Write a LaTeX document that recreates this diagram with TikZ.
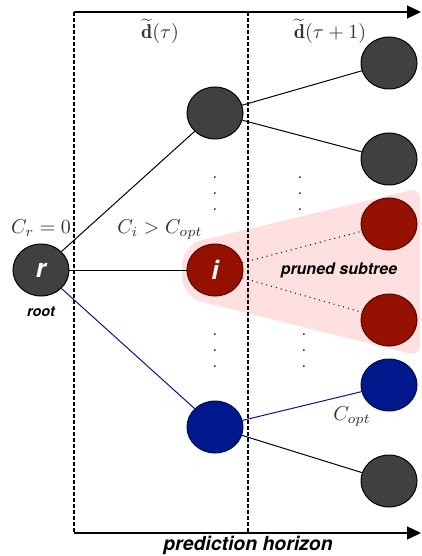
\documentclass[tikz,border=0pt]{standalone}
\usepackage{amsmath}
\usepackage{fontspec}
\setsansfont{TeX Gyre Heros}
\usetikzlibrary{arrows.meta,positioning,shapes.geometric}

\definecolor{nodegray}{RGB}{64,64,64}
\definecolor{nodered}{RGB}{150,16,0}
\definecolor{nodeblue}{RGB}{0,24,140}
\definecolor{prunepink}{RGB}{255,224,224}

\begin{document}
\begin{tikzpicture}[
  font=\sffamily,
  >={Triangle[length=7pt,width=6.5pt]},
  gnode/.style={ellipse, draw=black, line width=0.5pt, fill=nodegray, minimum width=28pt, minimum height=26pt, inner sep=0pt, text=white, font=\sffamily\bfseries\itshape\fontsize{13}{13}\selectfont},
  rnode/.style={gnode, draw=nodered!55!black, fill=nodered},
  bnode/.style={gnode, draw=nodeblue!55!black, fill=nodeblue},
  link/.style={line width=0.5pt},
  horizon/.style={dash pattern=on 2pt off 1pt, line width=0.6pt},
  axis/.style={->, line width=0.7pt},
  tag/.style={font=\sffamily\bfseries\itshape\fontsize{8}{8}\selectfont},
  cost/.style={text=black!80},
  dotcol/.style={align=center, inner sep=0pt, font=\rmfamily\fontsize{8}{8}\selectfont}
]
\useasboundingbox (-20.5pt,-143pt) rectangle (190.5pt,135pt);

% pruned region
\fill[prunepink] [rounded corners=10pt] (70.5pt,-13.5pt) -- (70.5pt,12.5pt)
  [rounded corners=5pt] -- (189.5pt,41pt) -- (189.5pt,-43pt) [rounded corners=10pt] -- cycle;

% time axes
\coordinate (tl) at (16.5pt,129pt);
\coordinate (tm) at (103.5pt,129pt);
\coordinate (tr) at (190pt,129pt);
\coordinate (bl) at (16.5pt,-131.5pt);
\coordinate (bm) at (103.5pt,-131.5pt);
\coordinate (br) at (190pt,-131.5pt);

\draw[horizon] (tl) -- (bl);
\draw[horizon] (tm) -- (bm);
\draw[axis] (tl) -- (tr);
\draw[axis] (bl) -- (br);

\node[cost, inner sep=1pt] (dtau) at (59.5pt,119.5pt) {$\widetilde{\mathbf{d}}(\tau)$};
\node[cost, inner sep=1pt] (dtau1) at (144.5pt,119.5pt) {$\widetilde{\mathbf{d}}(\tau+1)$};
\node[font=\sffamily\bfseries\itshape\fontsize{9.7}{9.7}\selectfont, inner sep=1pt] (horizon) at (103.5pt,-137.5pt) {prediction horizon};

% tree
\node[gnode] (r) at (0,0) {r};
\node[gnode, right=58.5pt of r, yshift=78.5pt] (a) {};
\node[rnode, right=58.5pt of r] (i) {i};
\node[bnode, right=58.5pt of r, yshift=-78.5pt] (b) {};

\node[gnode, right=58.5pt of a, yshift=25pt] (a1) {};
\node[gnode, right=58.5pt of a, yshift=-23pt] (a2) {};
\node[rnode, right=58.5pt of i, yshift=23pt] (i1) {};
\node[rnode, right=58.5pt of i, yshift=-25pt] (i2) {};
\node[bnode, right=58.5pt of b, yshift=21pt] (b1) {};
\node[gnode, right=58.5pt of b, yshift=-27pt] (b2) {};

\draw[link] (r) -- (a);
\draw[link] (r) -- (i);
\draw[link, nodeblue] (r) -- (b);
\draw[link] (a) -- (a1);
\draw[link] (a) -- (a2);
\draw[link, dotted] (i) -- (i1);
\draw[link, dotted] (i) -- (i2);
\draw[link, nodeblue] (b) -- (b1);
\draw[link] (b) -- (b2);

\node[dotcol] (dotsa) at (87pt,38pt) {.\\.\\.};
\node[dotcol] (dotsb) at (129.5pt,38pt) {.\\.\\.};
\node[dotcol] (dotsc) at (87pt,-40.5pt) {.\\.\\.};
\node[dotcol] (dotsd) at (131.5pt,-40.5pt) {.\\.\\.};

% labels
\node[cost, above=0pt of r] (cr) {$C_r=0$};
\node[tag, below=1.5pt of r, font=\sffamily\bfseries\itshape\fontsize{7.2}{7.2}\selectfont] (rootlbl) {root};
\node[cost] (ci) at (59.5pt,20pt) {$C_i>C_{opt}$};
\node[tag] (pruned) at (149pt,0pt) {pruned subtree};
\node[cost] (copt) at (155.5pt,-73.5pt) {$C_{opt}$};

\end{tikzpicture}
\end{document}
